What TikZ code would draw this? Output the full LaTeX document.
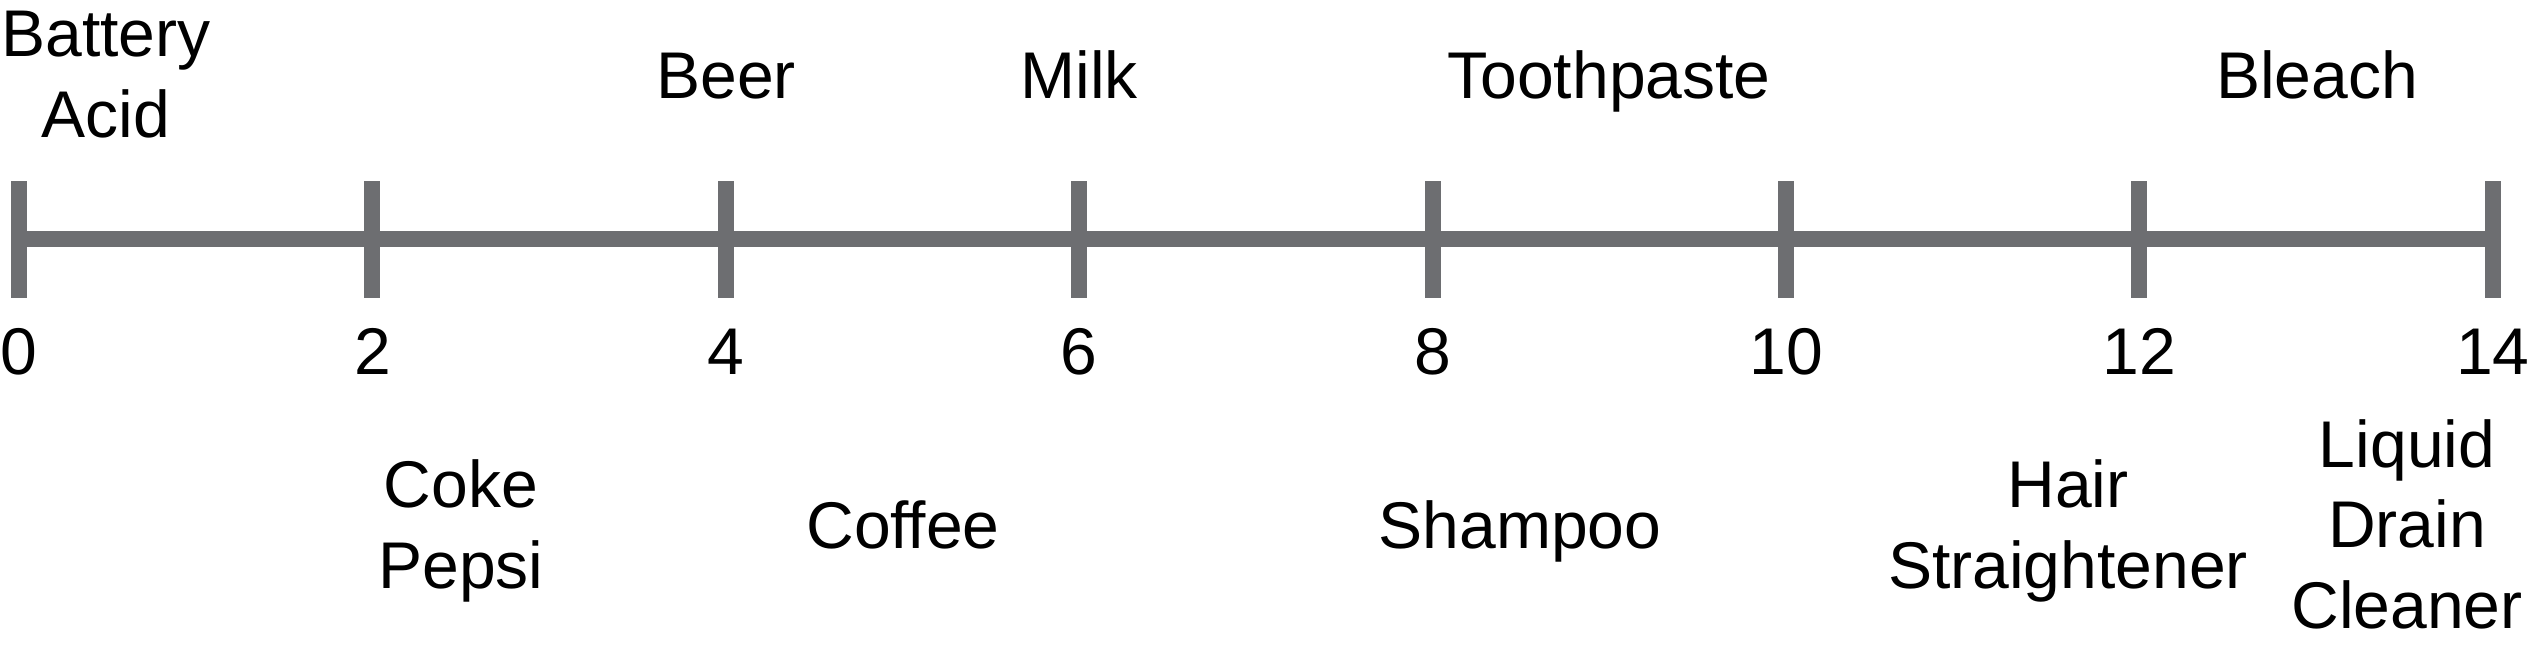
\documentclass[tikz,border=0pt]{standalone}
\usepackage{fontspec}
\setmainfont{Liberation Sans}
\definecolor{axisgray}{RGB}{109,110,113}
\begin{document}
\begin{tikzpicture}[x=0.01cm,y=-0.01cm,
  lbl/.style={inner sep=0pt, anchor=base, align=center, text=black,
    font=\fontsize{18.78pt}{22.76pt}\selectfont},
  axisline/.style={draw=axisgray, line width=0.16cm}]
\useasboundingbox (0,0) rectangle (2531,650);
% axis
\coordinate (axL) at (11,239);
\coordinate (axR) at (2501,239);
\draw[axisline] (axL) -- (axR);
% ticks and numbers
\foreach \i [evaluate=\i as \xx using 19+353.4*\i/2] in {0,2,...,14} {
  \coordinate (tt\i) at (\xx,181);
  \coordinate (tb\i) at (\xx,298);
  \draw[axisline] (tt\i) -- (tb\i);
  \node[lbl] (n\i) at (\xx,374) {\i};
}
% labels above (base anchor = baseline of last line)
\node[lbl] (battery) at (106,137) {Battery\\Acid};
\node[lbl] (beer) at (726,98) {Beer};
\node[lbl] (milk) at (1079,98) {Milk};
\node[lbl] (toothpaste) at (1609,98) {Toothpaste};
\node[lbl] (bleach) at (2317,98) {Bleach};
% labels below
\node[lbl] (coke) at (461,588) {Coke\\Pepsi};
\node[lbl] (coffee) at (903,548) {Coffee};
\node[lbl] (shampoo) at (1520,548) {Shampoo};
\node[lbl] (hair) at (2068,588) {Hair\\Straightener};
\node[lbl] (drain) at (2407,628) {Liquid\\Drain\\Cleaner};
\end{tikzpicture}
\end{document}
